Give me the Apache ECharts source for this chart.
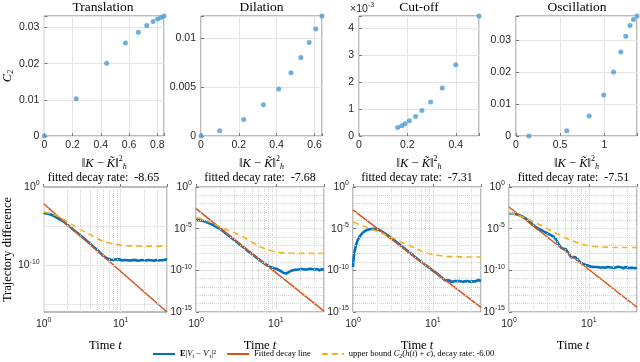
<!DOCTYPE html>
<html>
<head>
<meta charset="utf-8">
<script src="https://cdn.jsdelivr.net/npm/echarts@6/dist/echarts.min.js"></script>
<style>
  html, body { margin: 0; background: #fff; }
  #chart { width: 640px; height: 362px; }
</style>
</head>
<body>
<div id="chart"></div>
<script>
// ---------- top row: C2 against ||K - K~||_h^2 ----------
var panelNames = ['Translation', 'Dilation', 'Cut-off', 'Oscillation'];

var knormTranslation = [0, 0.226, 0.441, 0.574, 0.665, 0.725, 0.770, 0.802, 0.826, 0.847];
var c2Translation    = [0, 0.01028, 0.0201, 0.0257, 0.0287, 0.0306, 0.0317, 0.0324, 0.0328, 0.0332];

var knormDilation = [0, 0.099, 0.226, 0.330, 0.411, 0.476, 0.528, 0.572, 0.607, 0.640];
var c2Dilation    = [0, 0.00054, 0.00169, 0.00318, 0.0048, 0.00645, 0.0080, 0.00953, 0.0109, 0.01223];

var knormCutoff = [0.160, 0.177, 0.190, 0.208, 0.234, 0.260, 0.296, 0.344, 0.400, 0.496];
var c2Cutoff    = [0.31e-3, 0.38e-3, 0.45e-3, 0.56e-3, 0.72e-3, 0.94e-3, 1.26e-3, 1.78e-3, 2.64e-3, 4.44e-3];

var knormOscillation = [0.146, 0.575, 0.828, 0.993, 1.104, 1.187, 1.243, 1.291, 1.33, 1.37];
var c2Oscillation    = [0, 0.00167, 0.00625, 0.0129, 0.0201, 0.0264, 0.0313, 0.0347, 0.0366, 0.0377];

var topXStep = [0.2, 0.2, 0.2, 0.5];
var topYStep = [0.01, 0.005, 0.001, 0.01];

// ---------- bottom row: [time t, log10 of trajectory difference] ----------
var decayRates = ['-8.65', '-7.68', '-7.31', '-7.51'];

var diffTranslation = [[1,-3.35],[1.1,-3.4],[1.2,-3.5],[1.3,-3.62],[1.4,-3.78],[1.5,-3.95],[1.6,-4.1],[1.8,-4.4],
  [2,-4.78],[2.25,-5.2],[2.5,-5.58],[2.75,-5.9],[3,-6.22],[3.5,-6.75],[4,-7.25],[4.5,-7.7],[5,-8.1],[5.5,-8.5],
  [6,-8.85],[6.5,-9.1],[7,-9.2],[7.5,-9.3],[8,-9.35],[8.5,-9.28],[9,-9.38],[9.5,-9.25],[10,-9.33],[10.5,-9.4],
  [11,-9.27],[11.5,-9.35],[12,-9.22],[12.5,-9.38],[13,-9.3],[13.5,-9.42],[14,-9.26],[14.5,-9.33],[15,-9.19],
  [15.5,-9.36],[16,-9.3],[17,-9.45],[18,-9.28],[19,-9.35],[20,-9.24],[21,-9.4],[22,-9.31],[23,-9.36],[24,-9.22],
  [25,-9.38],[26,-9.3],[27,-9.44],[28,-9.27],[29,-9.35],[30,-9.3],[31,-9.41],[32,-9.26],[33,-9.37],[34,-9.3],
  [35,-9.2],[36,-9.36],[37,-9.29],[38,-9.4],[39,-9.27],[40,-9.33]];
var fitTranslation = [[1,-2.15],[40,-16.0]];
var boundTranslation = [[1,-3.2],[1.25,-3.42],[1.5,-3.7],[2,-4.4],[2.5,-5.0],[3,-5.45],[4,-6.1],[5,-6.6],[6,-6.95],
  [8,-7.3],[10,-7.45],[15,-7.55],[20,-7.57],[40,-7.57]];

var diffDilation = [[1,-3.95],[1.1,-3.98],[1.2,-4.05],[1.3,-4.15],[1.4,-4.27],[1.5,-4.4],[1.6,-4.52],[1.8,-4.78],
  [2,-5.02],[2.25,-5.4],[2.5,-5.75],[2.75,-6.07],[3,-6.35],[3.5,-6.87],[4,-7.3],[4.5,-7.7],[5,-8.05],[5.5,-8.35],
  [6,-8.62],[6.5,-8.88],[7,-9.1],[7.5,-9.3],[8,-9.45],[8.5,-9.6],[9,-9.68],[9.5,-9.75],[10,-9.8],[10.5,-9.88],
  [11,-9.97],[11.5,-10.1],[12,-10.2],[12.5,-10.32],[13,-10.4],[13.5,-10.38],[14,-10.3],[14.5,-10.22],[15,-10.15],
  [15.5,-10.05],[16,-10.1],[17,-9.95],[18,-10.02],[19,-9.9],[20,-10.0],[21,-9.85],[22,-9.97],[23,-9.9],[24,-10.05],
  [25,-9.88],[26,-9.96],[27,-9.82],[28,-9.95],[29,-9.86],[30,-10.02],[31,-9.9],[32,-9.97],[33,-9.84],[34,-9.93],
  [35,-10.0],[36,-9.87],[37,-9.95],[38,-9.88],[39,-10.02],[40,-9.92]];
var fitDilation = [[1,-2.6],[40,-14.9]];
var boundDilation = [[1,-3.65],[1.25,-3.9],[1.5,-4.2],[2,-4.8],[2.5,-5.2],[3,-5.5],[4,-6.05],[5,-6.6],[6,-7.05],
  [7,-7.35],[8,-7.55],[10,-7.8],[13,-7.92],[15,-7.95],[20,-7.97],[40,-7.97]];

var diffCutoff = [[1,-9.6],[1.01,-9.0],[1.02,-8.5],[1.04,-7.9],[1.07,-7.3],[1.1,-6.85],[1.15,-6.35],[1.2,-6.0],
  [1.3,-5.55],[1.4,-5.3],[1.5,-5.15],[1.6,-5.07],[1.8,-5.02],[2,-5.08],[2.2,-5.22],[2.5,-5.55],[3,-6.1],[3.5,-6.6],
  [4,-7.05],[4.5,-7.45],[5,-7.8],[6,-8.4],[7,-8.9],[8,-9.32],[9,-9.7],[10,-10.05],[10.5,-10.15],[11,-10.3],
  [11.5,-10.5],[12,-10.62],[13,-10.9],[14,-11.15],[14.5,-11.3],[15,-11.22],[15.5,-11.35],[16,-11.18],[16.5,-11.25],
  [17,-11.4],[17.5,-11.55],[18,-11.45],[18.5,-11.3],[19,-11.2],[20,-11.28],[21,-11.15],[22,-11.3],[23,-11.22],
  [24,-11.36],[25,-11.2],[26,-11.28],[27,-11.15],[28,-11.32],[29,-11.24],[30,-11.35],[31,-11.18],[32,-11.3],
  [33,-11.2],[34,-11.34],[35,-11.22],[36,-11.28],[37,-11.16],[38,-11.3],[39,-11.21],[40,-11.27]];
var fitCutoff = [[1,-2.74],[40,-14.45]];
var boundCutoff = [[1,-4.2],[1.25,-4.55],[1.5,-4.85],[2,-5.3],[2.5,-5.7],[3,-6.0],[4,-6.6],[5,-7.0],[6,-7.35],
  [8,-7.85],[10,-8.1],[12,-8.22],[15,-8.32],[20,-8.38],[40,-8.4]];

var diffOscillation = [[1,-3.15],[1.1,-3.18],[1.2,-3.25],[1.3,-3.33],[1.4,-3.45],[1.5,-3.58],[1.6,-3.75],[1.8,-4.15],
  [2,-4.55],[2.2,-4.85],[2.4,-5.05],[2.6,-5.22],[2.8,-5.4],[3,-5.55],[3.3,-5.75],[3.6,-5.95],[3.9,-6.3],[4.2,-6.9],
  [4.5,-7.3],[4.8,-7.4],[5.1,-7.45],[5.4,-7.6],[5.7,-8.1],[6,-8.45],[6.3,-8.5],[6.7,-8.4],[7.1,-8.55],[7.5,-8.9],
  [8,-9.1],[8.5,-9.2],[9,-9.3],[9.5,-9.4],[10,-9.5],[10.5,-9.55],[11,-9.62],[11.5,-9.58],[12,-9.65],[13,-9.6],
  [14,-9.7],[15,-9.63],[16,-9.68],[17,-9.6],[18,-9.72],[19,-9.66],[20,-9.62],[21,-9.7],[22,-9.64],[23,-9.58],
  [24,-9.66],[25,-9.62],[26,-9.7],[27,-9.75],[28,-9.66],[29,-9.6],[30,-9.68],[31,-9.72],[32,-9.64],[33,-9.7],
  [34,-9.75],[35,-9.68],[36,-9.62],[37,-9.7],[38,-9.74],[39,-9.66],[40,-9.7]];
var fitOscillation = [[1,-2.4],[40,-14.43]];
var boundOscillation = [[1,-3.1],[1.25,-3.35],[1.5,-3.6],[2,-4.15],[2.5,-4.6],[3,-5.0],[4,-5.6],[5,-6.05],[6,-6.4],
  [8,-6.85],[10,-7.05],[13,-7.17],[15,-7.2],[20,-7.25],[40,-7.27]];

var timeMax = 40;
var minorTimes = [2, 3, 4, 5, 6, 7, 8, 9, 20, 30];
var minorDecades = [-1, -2, -3, -4, -6, -7, -8, -9, -11, -12, -13, -14];

// ---------- drawing ----------
var knorms = [knormTranslation, knormDilation, knormCutoff, knormOscillation];
var c2s = [c2Translation, c2Dilation, c2Cutoff, c2Oscillation];
var diffs = [diffTranslation, diffDilation, diffCutoff, diffOscillation];
var fits = [fitTranslation, fitDilation, fitCutoff, fitOscillation];
var bounds = [boundTranslation, boundDilation, boundCutoff, boundOscillation];

var SANS = '"Liberation Sans", Arial, sans-serif';
var SERIF = '"Liberation Serif", "DejaVu Serif", serif';
var INK = '#262626';
var BOX = '#7a7a7a';
var GRIDC = '#e4e4e4';
var MINOR = '#d2d2d2';
var BLUE = '#0072BD', RED = '#D95319', YEL = '#EDB120', DOT = '#4a9bd6';

var topGrids = [
  {left: 42, top: 16, width: 122, height: 120},
  {left: 201, top: 16, width: 121, height: 120},
  {left: 359, top: 16, width: 120, height: 120},
  {left: 516, top: 16, width: 122, height: 120}
];
var bottomGrids = [
  {left: 40, top: 187, width: 127, height: 125},
  {left: 196, top: 187, width: 128, height: 125},
  {left: 353, top: 187, width: 128, height: 125},
  {left: 509, top: 187, width: 129, height: 125}
];

function stepLabel(step, scale) {
  return function (v) {
    var k = v / step;
    if (Math.abs(k - Math.round(k)) > 1e-6) return '';
    return String(+(v * scale).toPrecision(6));
  };
}
function powLabel(only) {
  return function (v) {
    var r = Math.round(v);
    if (Math.abs(v - r) > 1e-6) return '';
    if (only && only.indexOf(r) < 0) return '';
    return '{b|10}{s|' + r + '}';
  };
}
var powRich = {
  b: {fontFamily: SANS, fontSize: 10.5, color: INK},
  s: {fontFamily: SANS, fontSize: 7, color: INK, padding: [0, 0, 7, 0]}
};
var nameRich = {
  n: {fontFamily: SERIF, fontSize: 12.5, color: '#000'},
  i: {fontFamily: SERIF, fontSize: 12.5, fontStyle: 'italic', color: '#000'},
  sp: {fontFamily: SERIF, fontSize: 8, color: '#000', padding: [0, 0, 9, 0]},
  sb: {fontFamily: SERIF, fontSize: 8, fontStyle: 'italic', color: '#000', padding: [7, 0, 0, 0]}
};
var kNormName = '{n|\u2016}{i|K}{n| \u2212 }{i|K\u0303}{n|\u2016}{sp|2}{sb|h}';

var grids = [], xAxes = [], yAxes = [], series = [], titles = [];

topGrids.forEach(function (g, i) {
  grids.push(Object.assign({show: true, borderColor: BOX, borderWidth: 1}, g));
  xAxes.push({
    type: 'value', gridIndex: i, min: 0, max: 'dataMax', interval: topXStep[i],
    axisLine: {show: false},
    axisTick: {inside: true, length: 3, lineStyle: {color: BOX}},
    axisLabel: {margin: 4, fontFamily: SANS, fontSize: 10.5, color: INK, formatter: stepLabel(topXStep[i], 1)},
    splitLine: {lineStyle: {color: GRIDC}},
    name: kNormName, nameLocation: 'middle', nameGap: 19, nameTextStyle: {rich: nameRich}
  });
  yAxes.push({
    type: 'value', gridIndex: i, min: 0, max: 'dataMax', interval: topYStep[i],
    axisLine: {show: false},
    axisTick: {inside: true, length: 3, lineStyle: {color: BOX}},
    axisLabel: {margin: 5, fontFamily: SANS, fontSize: 10.5, color: INK,
      formatter: stepLabel(topYStep[i], i === 2 ? 1000 : 1)},
    splitLine: {lineStyle: {color: GRIDC}},
    name: i === 0 ? '{i|C}{sb|2}' : '', nameLocation: 'middle', nameRotate: 90, nameGap: 28,
    nameTextStyle: {rich: nameRich}
  });
  series.push({
    type: 'scatter', xAxisIndex: i, yAxisIndex: i, symbolSize: 5,
    itemStyle: {color: DOT},
    data: knorms[i].map(function (x, k) { return [x, c2s[i][k]]; })
  });
  titles.push({
    text: panelNames[i], left: g.left + g.width / 2, top: 0, textAlign: 'center', padding: 0,
    textStyle: {fontFamily: SERIF, fontSize: 13.5, fontWeight: 'normal', color: '#000'}
  });
});

titles.push({
  text: '\u00d710{s|-3}', left: 350, top: 2, padding: 0,
  textStyle: {fontFamily: SANS, fontSize: 10.5, fontWeight: 'normal', color: INK, rich: powRich}
});

function toLog(pairs) {
  return pairs.map(function (p) { return [Math.log10(p[0]), p[1]]; });
}

bottomGrids.forEach(function (g, j) {
  var i = j + 4;
  var first = j === 0;
  grids.push(Object.assign({show: true, borderColor: BOX, borderWidth: 1}, g));
  xAxes.push({
    type: 'value', gridIndex: i, min: 0, max: Math.log10(timeMax), interval: 1,
    axisLine: {show: false},
    axisTick: {inside: true, length: 3, lineStyle: {color: BOX}},
    axisLabel: {margin: 5, formatter: powLabel(), rich: powRich},
    splitLine: {lineStyle: {color: GRIDC}},
    name: '{n|Time }{i|t}', nameLocation: 'middle', nameGap: 27, nameTextStyle: {rich: nameRich}
  });
  yAxes.push({
    type: 'value', gridIndex: i,
    min: first ? -16 : -15, max: 0, interval: first ? 2 : 5,
    axisLine: {show: false},
    axisTick: {show: !first, inside: true, length: 3, lineStyle: {color: BOX}},
    axisLabel: {margin: 4, formatter: powLabel(first ? [0, -10] : null), rich: powRich},
    splitLine: {show: !first, lineStyle: {color: GRIDC}},
    name: first ? 'Trajectory difference' : '', nameLocation: 'middle', nameRotate: 90, nameGap: 26,
    nameTextStyle: {fontFamily: SERIF, fontSize: 12.5, color: '#000'}
  });

  var dotted = {type: 'dotted', color: MINOR, width: 1};
  var marks = minorTimes.map(function (t) {
    return {xAxis: Math.log10(t), lineStyle: dotted};
  });
  if (first) {
    marks.push({yAxis: -10, lineStyle: {type: 'solid', color: GRIDC, width: 1}});
    marks.push({yAxis: -5, lineStyle: dotted});
    marks.push({yAxis: -15, lineStyle: dotted});
  } else {
    minorDecades.forEach(function (d) { marks.push({yAxis: d, lineStyle: dotted}); });
  }
  series.push({
    type: 'line', xAxisIndex: i, yAxisIndex: i, data: [[0, 0]], symbol: 'none', silent: true, z: 1,
    lineStyle: {opacity: 0},
    markLine: {silent: true, symbol: 'none', label: {show: false}, animation: false, data: marks}
  });
  series.push({
    name: 'diff', type: 'line', xAxisIndex: i, yAxisIndex: i, data: toLog(diffs[j]),
    symbol: 'none', color: BLUE, lineStyle: {color: BLUE, width: 2.6}, z: 2
  });
  series.push({
    name: 'fit', type: 'line', xAxisIndex: i, yAxisIndex: i, data: toLog(fits[j]),
    symbol: 'none', color: RED, lineStyle: {color: RED, width: 1.5}, z: 3
  });
  series.push({
    name: 'bound', type: 'line', xAxisIndex: i, yAxisIndex: i, data: toLog(bounds[j]),
    symbol: 'none', smooth: 0.3, color: YEL, lineStyle: {color: YEL, width: 1.6, type: [6, 4]}, z: 4
  });
  titles.push({
    text: 'fitted decay rate:  ' + decayRates[j], left: g.left + g.width / 2, top: 172,
    textAlign: 'center', padding: 0,
    textStyle: {fontFamily: SERIF, fontSize: 12, fontWeight: 'normal', color: '#000'}
  });
});

var legendText = {
  diff: '{bf|E}|{i|V}{sb|t} \u2212 {i|V}{sp|\u2032}{sb|t}|{sp|2}',
  fit: 'Fitted decay line',
  bound: 'upper bound {i|C}{sb|2}({i|h}({i|t}) + {i|c}), decay rate: -6.00'
};

var option = {
  animation: false,
  title: titles,
  grid: grids,
  xAxis: xAxes,
  yAxis: yAxes,
  series: series,
  legend: {
    left: 152, top: 349, itemWidth: 22, itemHeight: 8, itemGap: 10, padding: 0,
    data: ['diff', 'fit', 'bound'],
    itemStyle: {opacity: 0, borderWidth: 0},
    formatter: function (n) { return legendText[n]; },
    textStyle: {
      fontFamily: SERIF, fontSize: 8.5, color: '#000',
      rich: {
        i: {fontFamily: SERIF, fontSize: 8.5, fontStyle: 'italic', color: '#000'},
        bf: {fontFamily: SERIF, fontSize: 8.5, fontWeight: 'bold', color: '#000'},
        sb: {fontFamily: SERIF, fontSize: 6, color: '#000', padding: [4, 0, 0, 0]},
        sp: {fontFamily: SERIF, fontSize: 6, color: '#000', padding: [0, 0, 4, 0]}
      }
    }
  }
};

echarts.init(document.getElementById('chart')).setOption(option);
</script>
</body>
</html>
